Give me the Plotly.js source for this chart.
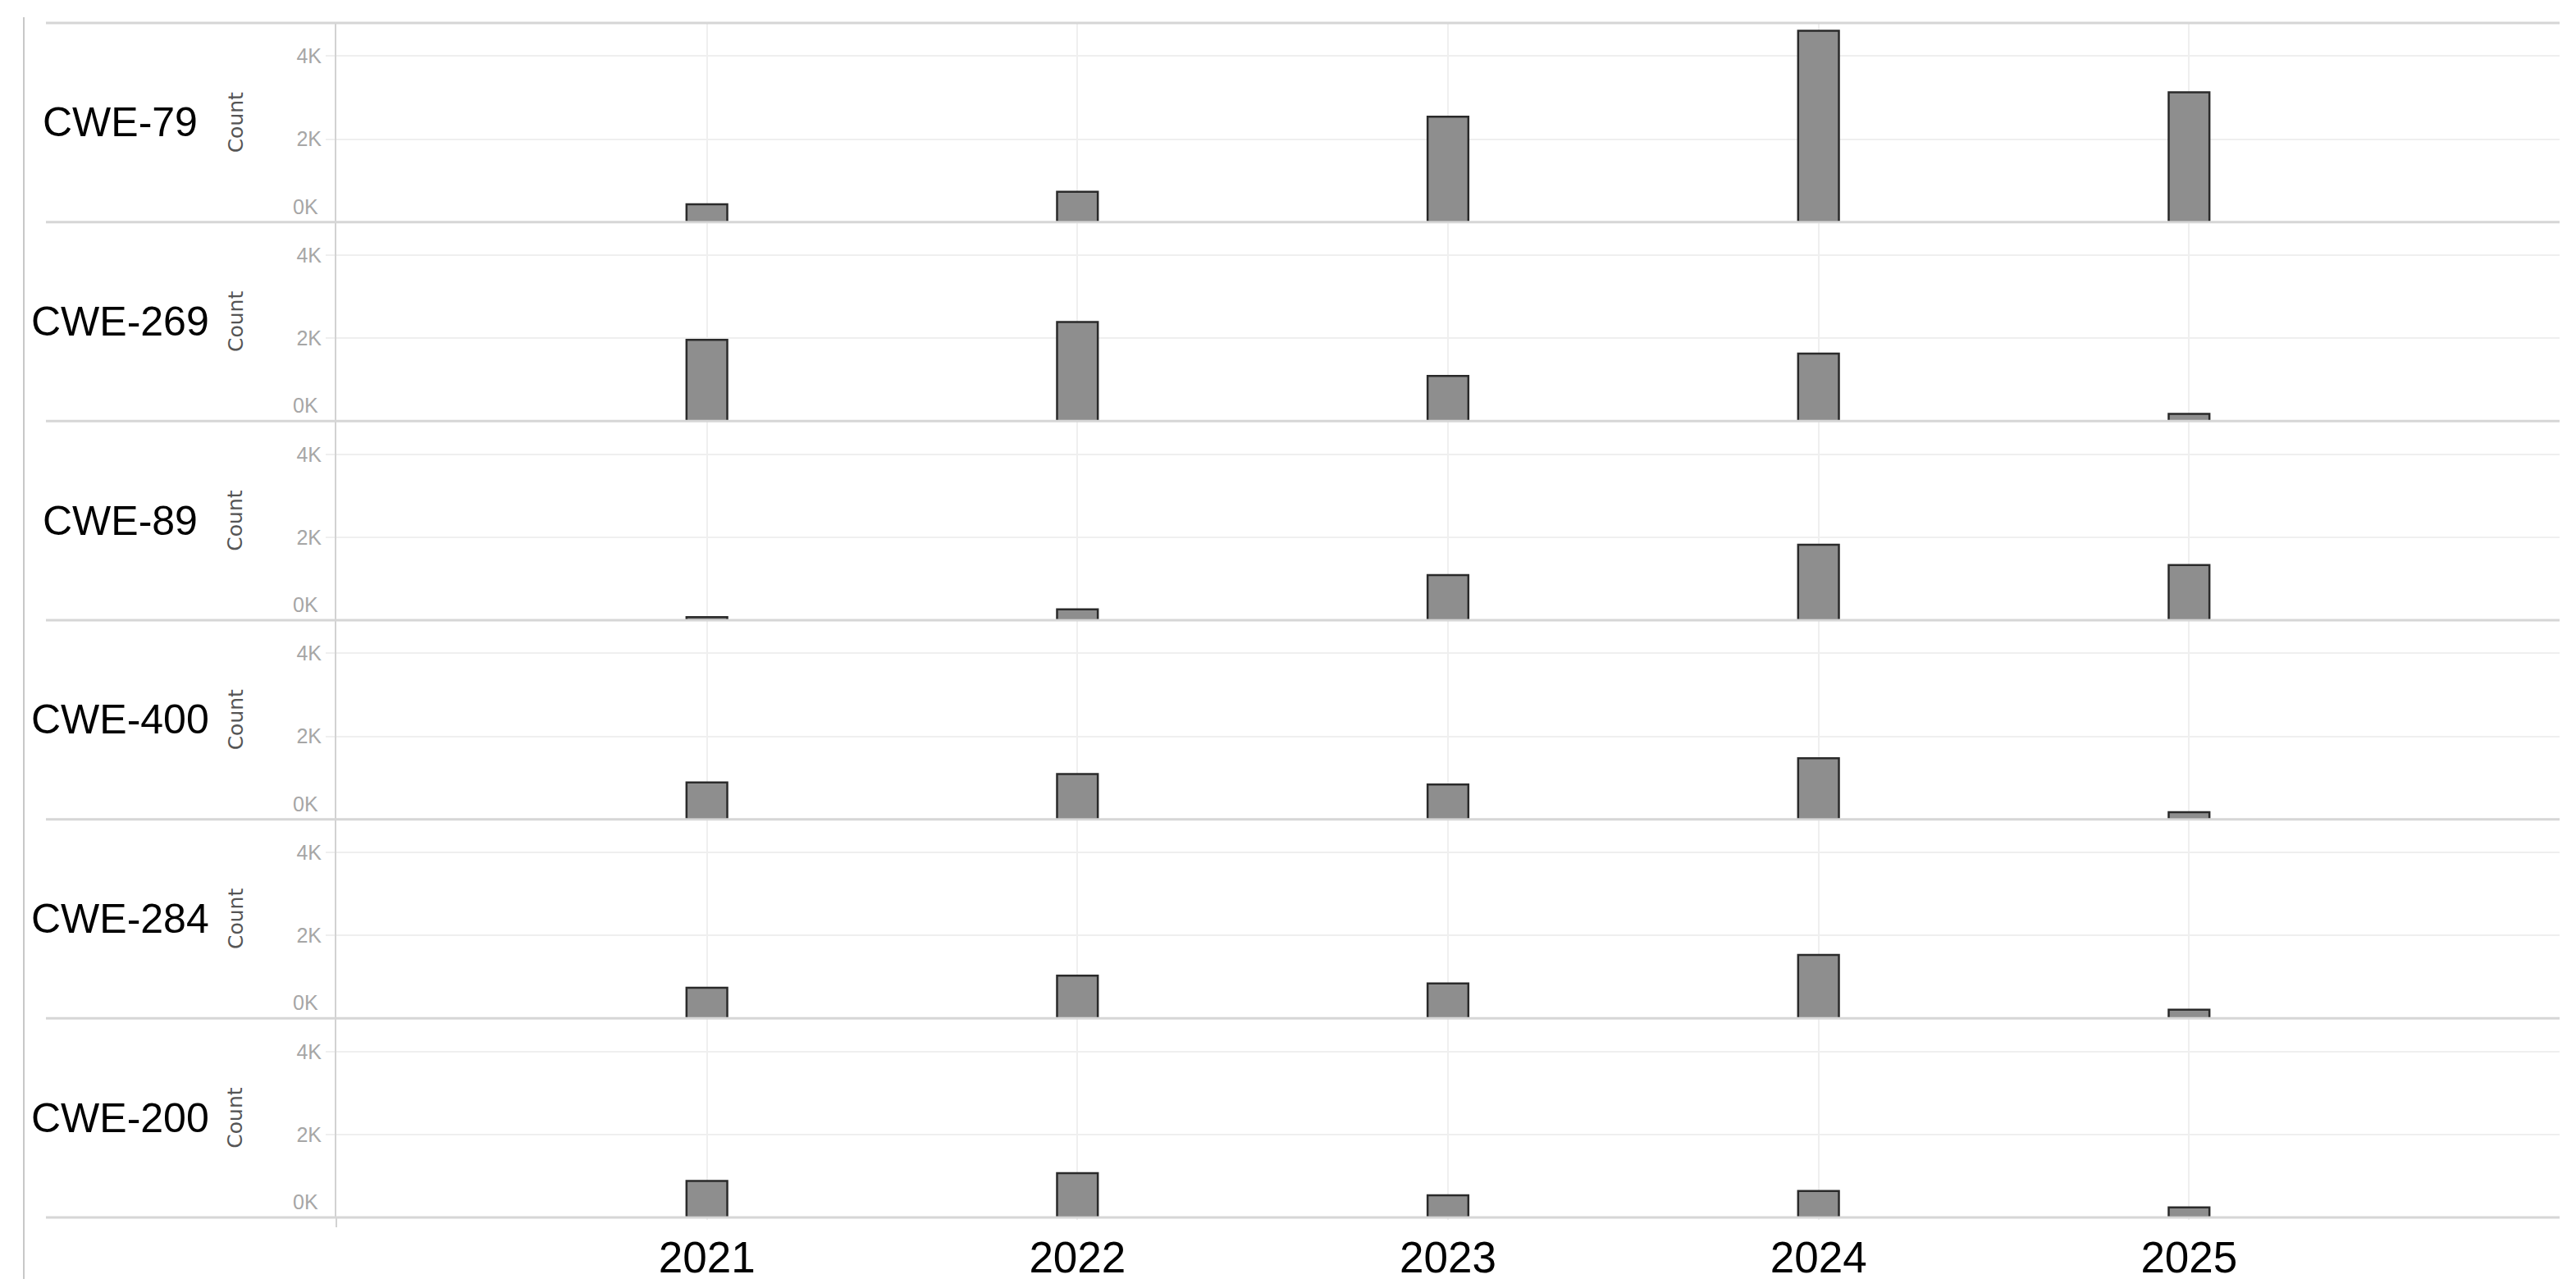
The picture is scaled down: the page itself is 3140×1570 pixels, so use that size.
<!DOCTYPE html>
<html>
<head>
<meta charset="utf-8">
<script src="https://cdn.plot.ly/plotly-3.0.1.min.js"></script>
<style>
  html, body { margin: 0; padding: 0; background: #ffffff; }
  #chart { width: 3140px; height: 1570px; }
</style>
</head>
<body>
<div id="chart"></div>
<script>
// ---- Data ----
const years = [2021, 2022, 2023, 2024, 2025];
const cweLabels = ['CWE-79', 'CWE-269', 'CWE-89', 'CWE-400', 'CWE-284', 'CWE-200'];
const cwe79  = [430, 730, 2540, 4610, 3130];
const cwe269 = [1960, 2390, 1090, 1630, 175];
const cwe89  = [75, 260, 1090, 1820, 1330];
const cwe400 = [890, 1090, 840, 1470, 170];
const cwe284 = [740, 1030, 840, 1530, 210];
const cwe200 = [880, 1070, 535, 640, 240];
const yTickVals = [0, 2000, 4000];
const yTickText = ['0K', '2K', '4K'];
const yAxisTitle = 'Count';

const series = [cwe79, cwe269, cwe89, cwe400, cwe284, cwe200];

// ---- Styling constants ----
const W = 3140, H = 1570;
const M = { l: 410, r: 20, t: 28, b: 86 };
const plotW = W - M.l - M.r;
const nPanels = series.length;
const gridColor = '#efefef';
const sepColor = '#d6d6d6';
const tickFont = { family: 'Liberation Sans Narrow, Liberation Sans, Arial Narrow, sans-serif', size: 25, color: '#a6a6a6' };
const labelFont = { family: 'Liberation Sans, Arial, sans-serif', size: 50, color: '#000000' };
const yearFont = { family: 'Liberation Sans, Arial, sans-serif', size: 53, color: '#000000' };
const countFont = { family: 'DejaVu Sans, sans-serif', size: 25, color: '#555555' };

const px2paperX = (px) => (px - M.l) / plotW;
const plotH = H - M.t - M.b;

const data = [];
const layout = {
  width: W, height: H,
  margin: M,
  paper_bgcolor: '#ffffff',
  plot_bgcolor: '#ffffff',
  showlegend: false,
  bargap: 0,
  shapes: [],
  annotations: []
};

for (let i = 0; i < nPanels; i++) {
  const sfx = i === 0 ? '' : String(i + 1);
  const isBottom = i === nPanels - 1;
  data.push({
    type: 'bar',
    x: years,
    y: series[i],
    width: 0.11,
    xaxis: 'x' + sfx,
    yaxis: 'y' + sfx,
    marker: { color: '#8e8e8e', line: { color: '#2a2a2a', width: 2.5 } },
    hoverinfo: 'x+y',
    name: cweLabels[i]
  });

  layout['xaxis' + sfx] = {
    anchor: 'y' + sfx,
    domain: [0, 1],
    range: [2020, 2026],
    tickmode: 'array',
    tickvals: years,
    ticktext: years.map(String),
    showticklabels: isBottom,
    tickfont: yearFont,
    ticks: isBottom ? 'outside' : '',
    ticklen: 2,
    tickwidth: 2,
    tickcolor: gridColor,
    showgrid: true,
    gridcolor: gridColor,
    gridwidth: 2,
    zeroline: false,
    showline: false,
    fixedrange: true
  };

  const d0 = 1 - (i + 1) / nPanels, d1 = 1 - i / nPanels;
  layout['yaxis' + sfx] = {
    anchor: 'x' + sfx,
    domain: [d0, d1],
    range: [0, 4800],
    tickmode: 'array',
    tickvals: yTickVals.slice(1),
    ticktext: yTickText.slice(1),
    tickfont: tickFont,
    ticks: 'outside',
    ticklen: 11,
    tickwidth: 2,
    tickcolor: gridColor,
    showgrid: true,
    gridcolor: gridColor,
    gridwidth: 2,
    zeroline: false,
    showline: true,
    linecolor: '#d2d2d2',
    linewidth: 2,
    fixedrange: true
  };

  // 0K label sits just above the baseline
  layout.annotations.push({
    xref: 'paper', yref: 'y' + sfx,
    x: px2paperX(390), y: yTickVals[0],
    xanchor: 'right', yanchor: 'bottom', yshift: 3,
    text: yTickText[0], showarrow: false, font: tickFont
  });
  // Count axis title
  layout.annotations.push({
    xref: 'paper', yref: 'paper',
    x: px2paperX(287), y: (d0 + d1) / 2,
    xanchor: 'center', yanchor: 'middle',
    text: yAxisTitle, textangle: -90, showarrow: false, font: countFont
  });
  // Panel label
  layout.annotations.push({
    xref: 'paper', yref: 'paper',
    x: px2paperX(146), y: (d0 + d1) / 2,
    xanchor: 'center', yanchor: 'middle',
    text: cweLabels[i], showarrow: false, font: labelFont
  });
}

// Panel separator lines (top border + each baseline)
for (let k = 0; k <= nPanels; k++) {
  layout.shapes.push({
    type: 'line', xref: 'paper', yref: 'paper', layer: 'above',
    x0: px2paperX(56), x1: 1, y0: 1 - k / nPanels, y1: 1 - k / nPanels,
    line: { color: sepColor, width: 3 }
  });
}
// Left vertical border line
layout.shapes.push({
  type: 'line', xref: 'paper', yref: 'paper', layer: 'above',
  x0: px2paperX(29), x1: px2paperX(29),
  y0: (H - M.b - 21) / plotH, y1: (H - M.b - 1559) / plotH,
  line: { color: '#c8c8c8', width: 2 }
});
// y-axis line extension below baseline
layout.shapes.push({
  type: 'line', xref: 'paper', yref: 'paper', layer: 'below',
  x0: 0, x1: 0, y0: 0, y1: (H - M.b - 1496) / plotH,
  line: { color: '#d2d2d2', width: 2 }
});

Plotly.newPlot('chart', data, layout, { displayModeBar: false, staticPlot: true });
</script>
</body>
</html>
